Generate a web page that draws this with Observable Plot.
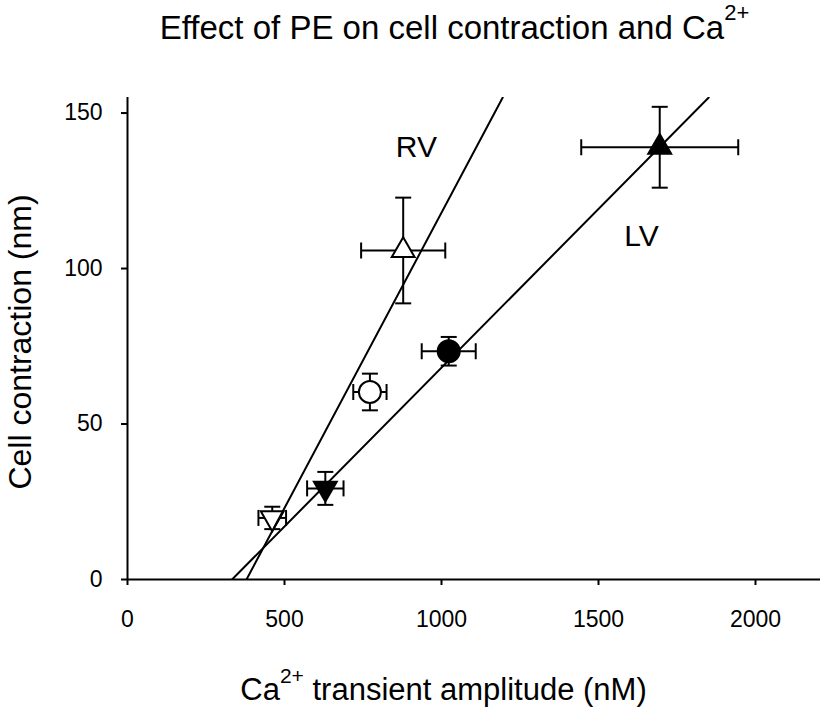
<!DOCTYPE html>
<html><head><meta charset="utf-8">
<script src="https://cdn.jsdelivr.net/npm/d3@7"></script>
<script src="https://cdn.jsdelivr.net/npm/@observablehq/plot@0.6"></script>
<style>
body{margin:0;background:#fff;}
#chart svg{display:block;}
</style>
</head><body><div id="chart"></div>
<script>
// Data
const ventricle = ["LV", "LV", "LV", "RV", "RV", "RV"];
const condition = ["low", "mid", "high", "low", "mid", "high"];
const caAmplitude = [630, 1023, 1695, 461, 772, 878];
const caError = [58, 86, 250, 44, 53, 134];
const contraction = [29.3, 73.4, 139, 19.8, 60.3, 105.8];
const contractionError = [5.3, 4.6, 13, 3.6, 5.9, 17];

// Regression line endpoints
const fitVentricle = ["LV", "LV", "RV", "RV"];
const fitCa = [333, 1851, 379, 1195];
const fitContraction = [0, 155, 0, 155];

// Line labels
const labelText = ["RV", "LV"];
const labelCa = [920, 1637];
const labelContraction = [139, 110.3];

const xTicks = [0, 500, 1000, 1500, 2000];
const yTicks = [0, 50, 100, 150];
const titleText = "Effect of PE on cell contraction and Ca2+";
const xTitle = "Ca2+ transient amplitude (nM)";
const yTitle = "Cell contraction (nm)";

const points = ventricle.map((v, i) => ({
  ventricle: v, condition: condition[i],
  x: caAmplitude[i], ex: caError[i], y: contraction[i], ey: contractionError[i]
}));
const fits = fitVentricle.map((v, i) => ({ventricle: v, x: fitCa[i], y: fitContraction[i]}));
const labels = labelText.map((t, i) => ({text: t, x: labelCa[i], y: labelContraction[i]}));

const capSymbol = {draw(ctx, size) { const r = Math.sqrt(size / Math.PI); ctx.moveTo(0, -r); ctx.lineTo(0, r); }};
const rotateOf = d => d.condition === "low" ? 180 : 0;
const fillOf = d => d.ventricle === "LV" ? "black" : "white";
const circles = points.filter(d => d.condition === "mid");
const triangles = points.filter(d => d.condition !== "mid");

const hCaps = points.flatMap(d => [{x: d.x - d.ex, y: d.y}, {x: d.x + d.ex, y: d.y}]);
const vCaps = points.flatMap(d => [{x: d.x, y: d.y - d.ey}, {x: d.x, y: d.y + d.ey}]);

const font = "Liberation Sans, Arial, Helvetica, sans-serif";

const chart = Plot.plot({
  width: 822,
  height: 710,
  marginLeft: 127,
  marginRight: 2,
  marginTop: 97,
  marginBottom: 131,
  style: {fontFamily: font, color: "black", background: "white"},
  x: {domain: [0, 2207]},
  y: {domain: [0, 155]},
  marks: [
    Plot.ruleY([0], {strokeWidth: 2}),
    Plot.ruleX([0], {strokeWidth: 2}),
    Plot.axisX(xTicks, {tickSize: 6, tickPadding: 25, fontSize: 23, strokeWidth: 2, label: null, tickFormat: d => String(d)}),
    Plot.axisY(yTicks, {tickSize: 6, tickPadding: 19, fontSize: 23, strokeWidth: 2, label: null, tickFormat: d => String(d)}),
    // error bars
    Plot.link(points, {x1: d => d.x - d.ex, x2: d => d.x + d.ex, y1: "y", y2: "y", stroke: "black", strokeWidth: 2}),
    Plot.link(points, {x1: "x", x2: "x", y1: d => d.y - d.ey, y2: d => d.y + d.ey, stroke: "black", strokeWidth: 2}),
    Plot.dot(hCaps, {x: "x", y: "y", symbol: capSymbol, r: 8, fill: "none", stroke: "black", strokeWidth: 2}),
    Plot.dot(vCaps, {x: "x", y: "y", symbol: capSymbol, r: 8, rotate: 90, fill: "none", stroke: "black", strokeWidth: 2}),
    // markers
    Plot.dot(circles, {x: "x", y: "y", symbol: "circle", r: 11, fill: fillOf, stroke: "black", strokeWidth: 2}),
    Plot.dot(triangles, {x: "x", y: "y", symbol: "triangle", rotate: rotateOf, r: 8.5, fill: fillOf, stroke: "black", strokeWidth: 2}),
    // regression lines
    Plot.line(fits, {x: "x", y: "y", z: "ventricle", stroke: "black", strokeWidth: 2, clip: true}),
    // labels
    Plot.text(labels, {x: "x", y: "y", text: "text", fontSize: 30, textAnchor: "middle", lineAnchor: "middle", fill: "black"}),
    // titles
    Plot.text([titleText], {text: d => d, frameAnchor: "top", textAnchor: "middle", lineAnchor: "bottom", dy: -59, dx: -19.5, fontSize: 33, fill: "black"}),
    Plot.text([xTitle], {text: d => d, frameAnchor: "bottom", textAnchor: "middle", lineAnchor: "bottom", dy: 120, dx: -30.5, fontSize: 31, fill: "black"}),
    Plot.text([yTitle], {text: d => d, frameAnchor: "left", textAnchor: "middle", lineAnchor: "middle", rotate: -90, dx: -107, dy: 3.5, fontSize: 32, fill: "black"})
  ]
});

// superscript "2+" after "Ca"
d3.select(chart).selectAll("text").each(function() {
  const t = this.textContent;
  if (!t.includes("Ca2+")) return;
  const big = t === titleText;
  const supSize = big ? 22 : 21;
  const shift = big ? 19 : 17;
  const [before, after] = t.split("Ca2+");
  const sel = d3.select(this);
  sel.text(null);
  sel.append("tspan").text(before + "Ca");
  sel.append("tspan").attr("dy", -shift).attr("font-size", supSize).text("2+");
  if (after) sel.append("tspan").attr("dy", shift).text(after);
});

document.getElementById("chart").append(chart);
</script>
</body></html>
